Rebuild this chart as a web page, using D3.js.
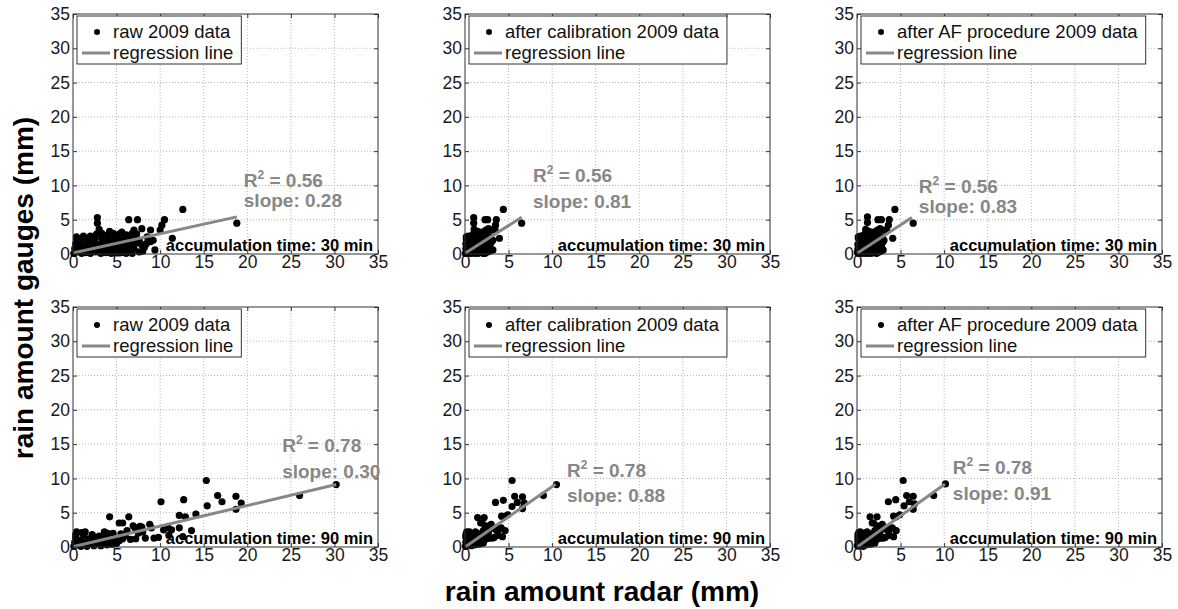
<!DOCTYPE html>
<html>
<head>
<meta charset="utf-8">
<script src="https://cdn.jsdelivr.net/npm/d3@7"></script>
<style>
  body { margin: 0; background: #fff; }
  text { font-family: "Liberation Sans", Arial, sans-serif; }
</style>
</head>
<body>
<svg id="chart" width="1178" height="609"></svg>
<script>
// ---- data ----
var raw30 = [
  [0.1,0.1],[0.5,0.3],[1.0,0.1],[1.5,0.2],[2.0,0.1],[2.6,0.3],[3.2,0.1],[3.8,0.2],[4.4,0.1],[5.0,0.3],[5.5,0.2],[6.1,0.1],[6.8,0.1],
  [0.2,0.8],[0.7,0.7],[1.3,0.9],[1.9,0.8],[2.5,0.7],[3.1,0.9],[3.7,0.8],[4.3,0.7],[4.9,0.9],[5.6,0.8],[6.3,0.6],[7.0,0.8],
  [0.3,1.5],[0.9,1.4],[1.6,1.6],[2.2,1.5],[2.9,1.4],[3.5,1.6],[4.1,1.5],[4.8,1.4],[5.4,1.6],[6.0,1.5],[6.6,1.4],[7.3,1.6],[7.9,1.3],
  [0.4,2.2],[1.1,2.3],[1.8,2.1],[2.5,2.2],[3.3,2.3],[4.0,2.2],[4.6,2.1],[5.2,2.3],[5.9,2.2],[6.5,2.1],[7.1,2.3],[7.6,2.0],
  [2.7,2.9],[3.3,3.0],[4.0,2.8],[4.6,3.0],[5.3,2.9],[6.1,2.8],[6.8,3.0],[7.3,2.9],
  [0.4,2.5],[1.2,2.6],[2.0,2.6],[3.0,3.6],[4.2,3.3],[5.6,3.2],[7.0,3.5],[7.9,3.7],
  [8.0,0.4],[8.2,1.0],[8.5,2.5],[8.9,1.8],[9.2,2.0],[8.4,1.5],[7.6,0.3],
  [12.6,6.5],[2.8,5.3],[2.8,4.5],[6.4,5.0],[7.4,5.0],[10.5,5.0],[10.2,4.2],[8.9,3.5],[10.0,3.5],[11.4,2.3],[9.4,0.6],[18.8,4.5]
];
var cal30 = [
  [0.05,0.1],[0.2,0.3],[0.35,0.1],[0.5,0.2],[0.7,0.1],[0.9,0.3],[1.1,0.1],[1.3,0.2],[1.5,0.1],[1.7,0.3],[1.9,0.2],[2.1,0.1],[2.3,0.1],
  [0.1,0.8],[0.25,0.7],[0.45,0.9],[0.65,0.8],[0.85,0.7],[1.05,0.9],[1.3,0.8],[1.5,0.7],[1.7,0.9],[1.95,0.8],[2.2,0.6],[2.4,0.8],
  [0.1,1.5],[0.3,1.4],[0.55,1.6],[0.75,1.5],[1.0,1.4],[1.2,1.6],[1.4,1.5],[1.65,1.4],[1.85,1.6],[2.1,1.5],[2.3,1.4],[2.5,1.6],[2.7,1.3],
  [0.15,2.2],[0.4,2.3],[0.6,2.1],[0.85,2.2],[1.15,2.3],[1.4,2.2],[1.6,2.1],[1.8,2.3],[2.05,2.2],[2.25,2.1],[2.45,2.3],[2.65,2.0],
  [0.95,2.9],[1.15,3.0],[1.4,2.8],[1.6,3.0],[1.85,2.9],[2.1,2.8],[2.35,3.0],[2.5,2.9],
  [0.15,2.5],[0.4,2.6],[0.7,2.6],[1.05,3.6],[1.45,3.3],[1.95,3.2],[2.4,3.5],[2.7,3.7],
  [2.8,0.4],[2.85,1.0],[2.95,2.5],[3.05,1.8],[3.2,2.0],[2.9,1.5],[2.6,0.3],
  [4.4,6.5],[1.0,5.3],[1.0,4.5],[2.3,5.0],[2.6,5.0],[3.6,5.0],[3.5,4.2],[3.1,3.5],[3.45,3.5],[3.95,2.3],[3.2,0.6],[6.5,4.5]
];
var af30 = [
  [0.05,0.2],[0.2,0.1],[0.35,0.3],[0.5,0.1],[0.7,0.2],[0.85,0.1],[1.05,0.3],[1.25,0.1],[1.45,0.2],[1.65,0.1],[1.85,0.3],[2.05,0.2],[2.25,0.1],
  [0.1,0.7],[0.3,0.9],[0.45,0.7],[0.65,0.9],[0.85,0.8],[1.0,0.7],[1.25,0.9],[1.45,0.8],[1.65,0.7],[1.9,0.9],[2.1,0.7],[2.35,0.8],
  [0.1,1.4],[0.3,1.6],[0.5,1.5],[0.75,1.4],[0.95,1.6],[1.15,1.5],[1.35,1.4],[1.6,1.6],[1.8,1.5],[2.0,1.4],[2.25,1.6],[2.45,1.5],[2.65,1.3],
  [0.15,2.3],[0.35,2.2],[0.6,2.2],[0.8,2.1],[1.1,2.3],[1.35,2.2],[1.55,2.1],[1.75,2.3],[2.0,2.2],[2.2,2.1],[2.4,2.3],[2.6,2.0],
  [0.9,2.9],[1.1,3.0],[1.35,2.8],[1.55,3.0],[1.8,2.9],[2.05,2.8],[2.3,3.0],[2.45,2.9],
  [0.15,2.5],[0.4,2.6],[0.7,2.7],[1.0,3.6],[1.4,3.3],[1.9,3.2],[2.35,3.5],[2.65,3.7],
  [2.7,0.4],[2.8,1.0],[2.9,2.5],[3.0,1.8],[3.1,2.0],[2.85,1.5],[2.55,0.3],
  [4.35,6.5],[1.2,5.4],[1.2,4.6],[2.4,5.0],[2.8,5.0],[3.7,5.0],[3.6,4.2],[3.1,3.5],[3.4,3.4],[4.1,2.3],[3.0,0.6],[6.45,4.5]
];
var raw90 = [
  [0.3,1.8],[0.3,1.4],[1.0,2.1],[1.2,1.8],[1.4,2.2],[0.7,1.0],[1.7,1.2],[2.3,1.0],[2.6,1.4],[3.0,1.6],[3.3,1.2],[3.8,1.8],[4.0,2.0],
  [4.4,1.5],[2.0,0.5],[2.8,0.6],[3.5,0.7],[4.2,0.9],[4.8,1.1],[5.3,0.9],[5.7,1.2],[1.3,0.4],[0.5,0.3],[0.2,0.7],[0.9,0.1],[1.6,0.1],
  [2.4,0.2],[3.2,0.2],[3.9,0.3],[4.5,0.4],[0.1,0.1],[0.6,0.6],[1.1,0.8],[1.9,0.7],[5.0,0.5],[6.0,1.6],[4.6,2.0],[3.6,2.2],[2.2,1.8],[0.4,2.2],
  [4.2,4.4],[6.4,4.4],[5.3,3.5],[5.7,3.5],[6.2,2.4],[6.9,3.1],[7.1,2.8],[7.7,3.0],[7.9,2.9],[8.0,2.2],[8.8,3.3],[9.0,2.8],[7.2,1.2],
  [8.3,1.3],[9.3,1.3],[9.8,1.4],[10.4,2.5],[10.9,2.8],[11.3,2.5],[11.0,1.7],[12.2,2.8],[12.6,1.5],[13.6,2.4],[6.6,1.1],[5.5,1.9],[7.5,2.0],
  [10.1,6.6],[12.7,6.9],[12.2,4.6],[12.9,4.4],[14.1,4.8],[15.3,9.7],[15.4,6.0],[16.6,7.5],[17.1,6.6],[18.7,7.4],[18.7,5.5],[19.3,6.4],
  [26.0,7.5],[30.2,9.1]
];
var cal90 = [
  [0.05,0.1],[0.1,0.7],[0.1,1.4],[0.1,1.8],[0.2,0.3],[0.2,2.2],[0.25,1.0],[0.35,2.1],[0.4,1.8],[0.45,0.4],[0.5,1.4],[0.5,2.2],
  [0.55,0.8],[0.6,1.2],[0.7,0.2],[0.8,1.0],[0.9,1.4],[0.95,0.6],[1.0,1.6],[1.1,0.3],[1.15,1.2],[1.2,2.2],[1.3,1.8],[1.35,0.7],
  [1.4,2.0],[1.5,1.5],[1.55,0.4],[1.65,0.9],[1.7,1.1],[1.8,0.5],[1.9,1.2],[1.95,0.9],[2.0,1.6],[2.1,0.6],[2.2,1.9],[0.75,1.8],
  [1.45,4.3],[2.2,4.3],[1.8,3.5],[1.95,3.5],[2.1,2.4],[2.35,3.1],[2.4,2.8],[2.6,3.0],[2.7,2.9],[2.7,2.2],[3.0,3.3],[3.05,2.8],
  [2.45,1.2],[2.8,1.3],[3.15,1.3],[3.35,1.4],[3.55,2.5],[3.7,2.8],[3.85,2.5],[3.75,1.7],[4.15,2.8],[4.3,1.5],[4.6,2.4],[2.25,1.1],
  [1.85,1.9],[2.55,2.0],
  [3.5,6.5],[4.4,6.8],[4.2,4.5],[4.5,4.4],[4.9,4.7],[5.4,9.7],[5.4,5.9],[5.7,7.4],[6.0,6.5],[6.6,7.3],[6.6,5.6],[6.8,6.4],
  [9.0,7.5],[10.5,9.1]
];
var af90 = [
  [0.05,0.2],[0.1,0.8],[0.1,1.3],[0.1,1.8],[0.2,0.4],[0.2,2.1],[0.25,1.1],[0.35,2.2],[0.4,1.7],[0.45,0.3],[0.5,1.5],[0.5,2.1],
  [0.55,0.9],[0.6,1.2],[0.7,0.1],[0.8,1.1],[0.9,1.5],[0.95,0.5],[1.0,1.7],[1.05,0.3],[1.1,1.2],[1.15,2.2],[1.25,1.8],[1.3,0.7],
  [1.35,2.0],[1.45,1.5],[1.5,0.4],[1.6,0.9],[1.65,1.2],[1.75,0.5],[1.85,1.2],[1.9,0.8],[1.95,1.6],[2.05,0.6],[2.15,1.9],[0.75,1.9],
  [1.5,4.4],[2.3,4.4],[1.75,3.5],[1.9,3.5],[2.05,2.4],[2.3,3.1],[2.35,2.8],[2.55,3.0],[2.6,2.9],[2.65,2.2],[2.9,3.3],[3.0,2.8],
  [2.4,1.2],[2.75,1.3],[3.05,1.3],[3.25,1.4],[3.45,2.5],[3.6,2.8],[3.75,2.5],[3.65,1.7],[4.05,2.8],[4.2,1.5],[4.5,2.4],[2.2,1.1],
  [1.8,1.9],[2.5,2.0],
  [3.6,6.6],[4.45,6.9],[4.2,4.5],[4.5,4.4],[4.9,4.7],[5.3,9.7],[5.4,6.0],[5.7,7.5],[6.0,6.6],[6.45,7.4],[6.45,5.5],[6.6,6.3],
  [8.8,7.5],[10.15,9.2]
];

var legendNames = ["raw 2009 data", "after calibration 2009 data", "after AF procedure 2009 data"];
var accumTimes = [30, 90];
var r2Values = ["0.56", "0.78"];
var slopes = [["0.28", "0.81", "0.83"], ["0.30", "0.88", "0.91"]];
var intercepts = [[0.15, 0.1, 0.1], [0.05, 0, 0]];
var regXmin = [[0.1, 0.05, 0.05], [0.1, 0.05, 0.05]];
var regXmax = [[18.8, 6.5, 6.3], [30.2, 10.4, 10.1]];
var tickValues = [0, 5, 10, 15, 20, 25, 30, 35];

var series = [[raw30, cal30, af30], [raw90, cal90, af90]];

// ---- layout ----
var panelLeft = [73, 465, 857], panelTop = [14, 307];
var pw = 305, ph = 240;
// anchor of the R² / slope annotation, in data units
var r2Pos = [[[19.6, 9.8], [7.8, 10.5], [7.1, 8.9]], [[24.0, 13.8], [11.7, 10.2], [11.0, 10.6]]];
var slopePos = [[[19.6, 6.9], [7.8, 6.7], [7.1, 6.0]], [[24.0, 10.0], [11.7, 6.5], [11.0, 6.8]]];

var svg = d3.select("#chart");
var gray = "#878787";

for (var r = 0; r < 2; r++) {
  for (var c = 0; c < 3; c++) {
    drawPanel(r, c);
  }
}

function drawPanel(r, c) {
  var g = svg.append("g")
    .attr("transform", "translate(" + panelLeft[c] + "," + panelTop[r] + ")");

  var x = d3.scaleLinear().domain([0, 35]).range([0, pw]);
  var y = d3.scaleLinear().domain([0, 35]).range([ph, 0]);

  // dotted grid
  g.append("g").selectAll("line.vg")
    .data(tickValues.slice(1, -1))
    .enter().append("line")
    .attr("x1", function (d) { return x(d); })
    .attr("x2", function (d) { return x(d); })
    .attr("y1", 0).attr("y2", ph)
    .attr("stroke", "#b5b5b5").attr("stroke-width", 1)
    .attr("stroke-dasharray", "1,2");
  g.append("g").selectAll("line.hg")
    .data(tickValues.slice(1, -1))
    .enter().append("line")
    .attr("y1", function (d) { return y(d); })
    .attr("y2", function (d) { return y(d); })
    .attr("x1", 0).attr("x2", pw)
    .attr("stroke", "#b5b5b5").attr("stroke-width", 1)
    .attr("stroke-dasharray", "1,2");

  // axes, ticks inside (matlab style)
  var xb = g.append("g").attr("transform", "translate(0," + ph + ")")
    .call(d3.axisBottom(x).tickValues(tickValues).tickSizeInner(-4).tickSizeOuter(0).tickPadding(2));
  var yl = g.append("g")
    .call(d3.axisLeft(y).tickValues(tickValues).tickSizeInner(-4).tickSizeOuter(0).tickPadding(3));
  var xt = g.append("g")
    .call(d3.axisTop(x).tickValues(tickValues).tickSizeInner(-4).tickSizeOuter(0).tickFormat(""));
  var yr = g.append("g").attr("transform", "translate(" + pw + ",0)")
    .call(d3.axisRight(y).tickValues(tickValues).tickSizeInner(-4).tickSizeOuter(0).tickFormat(""));

  [xb, yl, xt, yr].forEach(function (a) {
    a.select(".domain").remove();
    a.selectAll(".tick line").attr("stroke", "#333");
    a.selectAll("text").attr("font-size", "17.5px").attr("fill", "#1a1a1a")
      .attr("font-family", "'Liberation Sans', Arial, sans-serif");
  });

  // scatter points
  g.append("g").selectAll("circle")
    .data(series[r][c])
    .enter().append("circle")
    .attr("cx", function (d) { return x(d[0]); })
    .attr("cy", function (d) { return y(d[1]); })
    .attr("r", 3.6)
    .attr("fill", "#000");

  // regression line
  var s = +slopes[r][c], b = intercepts[r][c];
  var x0 = regXmin[r][c], x1 = regXmax[r][c];
  g.append("line")
    .attr("x1", x(x0)).attr("y1", y(s * x0 + b))
    .attr("x2", x(x1)).attr("y2", y(s * x1 + b))
    .attr("stroke", gray).attr("stroke-width", 3);

  // frame
  g.append("rect")
    .attr("width", pw).attr("height", ph)
    .attr("fill", "none").attr("stroke", "#333").attr("stroke-width", 1);

  // R² and slope annotation
  var r2 = g.append("text")
    .attr("x", x(r2Pos[r][c][0])).attr("y", y(r2Pos[r][c][1]))
    .attr("font-size", "19px").attr("font-weight", "bold").attr("fill", gray);
  r2.append("tspan").text("R");
  r2.append("tspan").attr("dy", -8).attr("font-size", "12px").text("2");
  r2.append("tspan").attr("dy", 8).text(" = " + r2Values[r]);

  g.append("text")
    .attr("x", x(slopePos[r][c][0])).attr("y", y(slopePos[r][c][1]))
    .attr("font-size", "19px").attr("font-weight", "bold").attr("fill", gray)
    .text("slope: " + slopes[r][c]);

  // accumulation time
  g.append("text")
    .attr("x", pw - 5).attr("y", ph - 3)
    .attr("text-anchor", "end")
    .attr("font-size", "16.5px").attr("font-weight", "bold").attr("fill", "#000")
    .text("accumulation time: " + accumTimes[r] + " min");

  // legend
  var lg = g.append("g").attr("transform", "translate(4,2)");
  var box = lg.append("rect")
    .attr("height", 48).attr("fill", "#fff")
    .attr("stroke", "#333").attr("stroke-width", 1);
  lg.append("circle").attr("cx", 20).attr("cy", 16).attr("r", 3).attr("fill", "#000");
  lg.append("line").attr("x1", 5).attr("x2", 33).attr("y1", 37).attr("y2", 37)
    .attr("stroke", gray).attr("stroke-width", 3);
  var t1 = lg.append("text").attr("x", 36).attr("y", 22)
    .attr("font-size", "18.5px").attr("fill", "#111").text(legendNames[c]);
  var t2 = lg.append("text").attr("x", 36).attr("y", 43)
    .attr("font-size", "18.5px").attr("fill", "#111").text("regression line");
  var w = Math.max(t1.node().getComputedTextLength(), t2.node().getComputedTextLength());
  box.attr("width", 36 + w + 8);
}

// shared axis titles
svg.append("text")
  .attr("transform", "translate(33,288) rotate(-90)")
  .attr("text-anchor", "middle")
  .attr("font-size", "28px").attr("font-weight", "bold").attr("fill", "#000")
  .text("rain amount gauges (mm)");

svg.append("text")
  .attr("x", 602).attr("y", 601)
  .attr("text-anchor", "middle")
  .attr("font-size", "28px").attr("font-weight", "bold").attr("fill", "#000")
  .text("rain amount radar (mm)");
</script>
</body>
</html>
